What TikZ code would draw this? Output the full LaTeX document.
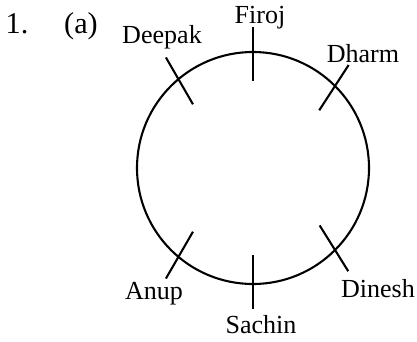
\documentclass[tikz,border=0pt]{standalone}
\usepackage{fontspec}
\setmainfont{Liberation Serif}
\usetikzlibrary{calc}
\tikzset{
  seatlabel/.style={font=\fontsize{12.5}{14}\selectfont, anchor=base, inner sep=0pt},
  qlabel/.style={seatlabel, font=\fontsize{14.5}{17}\selectfont},
  ring/.style={line width=1pt},
  seatmark/.style={line width=1pt}
}
\begin{document}
\begin{tikzpicture}[x=0.48pt, y=0.48pt]
  \useasboundingbox (0,0) rectangle (417,341);
  \coordinate (c) at (253,173);
  % table
  \draw[ring] (c) circle[radius=55.68pt];
  % seats
  \foreach \a/\d in {90/90, 130/120, 45/57, 230/240, 315/302, 270/270}
    \draw[seatmark] ($(c)+(\a:116)$) ++(\d:25) -- ++(\d+180:54);
  \node[qlabel] (num) at (17,308) {1.};
  \node[qlabel] (part) at (81,308) {(a)};
  \node[seatlabel] (firoj) at (260,318) {Firoj};
  \node[seatlabel] (deepak) at (162,298) {Deepak};
  \node[seatlabel] (dharm) at (363,279) {Dharm};
  \node[seatlabel] (anup) at (154,42) {Anup};
  \node[seatlabel] (dinesh) at (378,44) {Dinesh};
  \node[seatlabel] (sachin) at (261,8) {Sachin};
\end{tikzpicture}
\end{document}
